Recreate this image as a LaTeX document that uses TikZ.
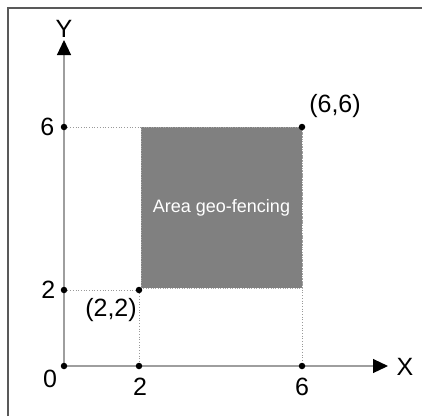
\documentclass[tikz,border=0pt]{standalone}
\usepackage{fontspec}
\setmainfont{Liberation Sans}
\usetikzlibrary{arrows.meta,positioning,calc,backgrounds}

\begin{document}
\begin{tikzpicture}[x=1pt,y=-1pt,
    dot/.style={circle,fill=black,inner sep=0pt,minimum size=6.5pt},
    axis/.style={draw=black!38,line width=1.1pt,-{Triangle[length=15pt,width=14pt,black]}},
    guide/.style={draw=black!40,dotted,line width=0.7pt},
    lbl/.style={font=\fontsize{25}{25}\selectfont,inner sep=0pt}]
    \useasboundingbox (0,0) rectangle (422,416);
    % frame
    \draw[black!65,line width=2pt] (8,416) -- (8,8) -- (422,8);

    % area
    \node[fill=black!50,draw=black!35,dotted,minimum width=161pt,minimum height=161pt,
          inner sep=0pt,text=white!92,font=\fontsize{18}{18}\selectfont]
          (fence) at (221.5,207.5) {Area geo-fencing};

    % points
    \node[dot] (o) at (64,366) {};
    \node[dot] (y2) at (64,290) {};
    \node[dot] (y6) at (64,127) {};
    \node[dot] (x2) at (139,366) {};
    \node[dot] (x6) at (302,366) {};
    \node[dot] (p22) at (139,290) {};
    \node[dot] (p66) at (302,127) {};
    \coordinate (ytip) at (64,40);
    \coordinate (xtip) at (388,366);

    \begin{scope}[on background layer]
        % guides
        \draw[guide] (y6) -- (p66);
        \draw[guide] (y2) -- (p22);
        \draw[guide] (p22) -- (x2);
        \draw[guide] (p66) -- (x6);
        % axes
        \draw[axis] (o.center) -- (ytip);
        \draw[axis] (o.center) -- (xtip);
    \end{scope}

    % labels
    \node[lbl] (ylab) at (64,29) {Y};
    \node[lbl] (xlab) at (405,367) {X};
    \node[lbl] (l0) at (50,379) {0};
    \node[lbl,left=5pt of y2] (ly2) {2};
    \node[lbl,left=6pt of y6] (ly6) {6};
    \node[lbl] (lx2) at (140,387) {2};
    \node[lbl] (lx6) at (302,387) {6};
    \node[lbl] (l22) at (111,310) {(2,2)};
    \node[lbl] (l66) at (335,106) {(6,6)};
\end{tikzpicture}
\end{document}
